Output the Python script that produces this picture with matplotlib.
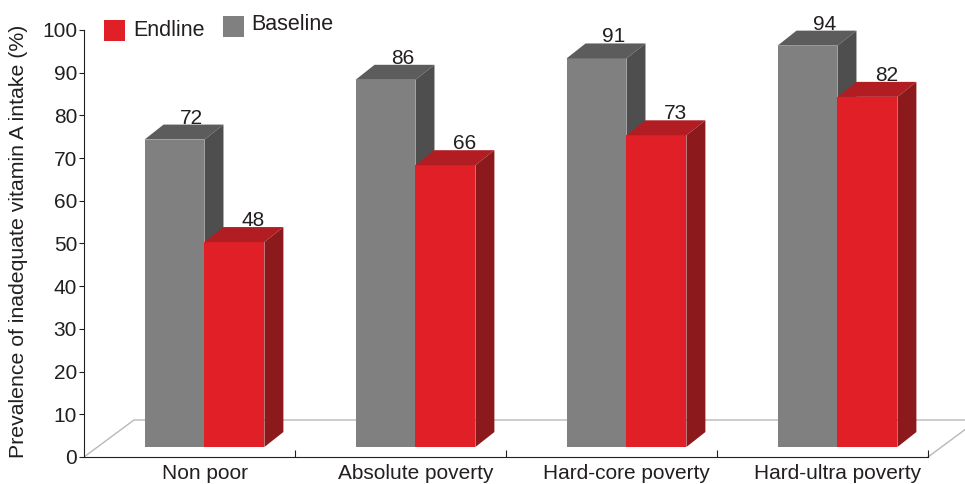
import matplotlib.pyplot as plt
from matplotlib.patches import Polygon, Rectangle

plt.rcParams['font.family'] = ['Liberation Sans', 'DejaVu Sans']

categories = ['Non poor', 'Absolute poverty', 'Hard-core poverty', 'Hard-ultra poverty']
baseline = [72, 86, 91, 94]
endline = [48, 66, 73, 82]
yticks = [0, 10, 20, 30, 40, 50, 60, 70, 80, 90, 100]

W, H = 965, 484
TXT = '#231f20'

fig = plt.figure(figsize=(W / 100, H / 100), dpi=100)
# axes: x from px 84 to 965, y from px 457 (0) to 30 (100)
ax = fig.add_axes([84 / W, (H - 457) / H, (965 - 84) / W, (457 - 30) / H])
ax.set_xlim(0, (965 - 84) / 211)
ax.set_ylim(0, 100)

# 3d geometry (data units)
bw = 0.284            # bar width
fx, fy = 0.071, 2.34  # front face offset from floor front
dx, dy = 0.09, 3.51   # bar depth
floor_dx, floor_dy = 0.237, 8.67

gray = ('#808080', '#5c5c5c', '#4e4e4e')
red = ('#e01f26', '#b11d22', '#8c191c')


def bar3d(x0, h, cols):
    x1 = x0 + bw
    y0, y1 = fy, fy + h
    front = [(x0, y0), (x1, y0), (x1, y1), (x0, y1)]
    top = [(x0, y1), (x1, y1), (x1 + dx, y1 + dy), (x0 + dx, y1 + dy)]
    side = [(x1, y0), (x1 + dx, y0 + dy), (x1 + dx, y1 + dy), (x1, y1)]
    for pts, c in ((front, cols[0]), (top, cols[1]), (side, cols[2])):
        ax.add_patch(Polygon(pts, closed=True, facecolor=c, edgecolor='none', zorder=3, clip_on=False))


# floor
fc = '#b8b8b8'
ax.plot([0, floor_dx, 4 + floor_dx], [0, floor_dy, floor_dy], color=fc, lw=1, zorder=1)
ax.plot([4, 4 + floor_dx], [0, floor_dy], color=fc, lw=1, zorder=1)

for i in range(len(categories)):
    c = i + 0.5
    xg = c - bw + fx
    xr = c + fx
    bar3d(xg, baseline[i], gray)
    bar3d(xr, endline[i], red)
    ax.text(xg + bw / 2 + 0.08, baseline[i] + fy + dy - 0.7, str(baseline[i]),
            ha='center', va='bottom', fontsize=15, color=TXT, zorder=4, clip_on=False)
    ax.text(xr + bw / 2 + 0.09, endline[i] + fy + dy - 0.7, str(endline[i]),
            ha='center', va='bottom', fontsize=15, color=TXT, zorder=4, clip_on=False)

# axes styling
for s in ('top', 'right'):
    ax.spines[s].set_visible(False)
ax.spines['left'].set_bounds(0, 100)
ax.spines['bottom'].set_bounds(0, 4)
ax.spines['left'].set_color(TXT)
ax.spines['bottom'].set_color(TXT)
ax.set_yticks(yticks)
ax.tick_params(axis='y', direction='out', length=3.5, labelsize=15, colors=TXT, pad=1.5)
ax.set_xticks([1, 2, 3, 4])
ax.set_xticklabels([])
ax.tick_params(axis='x', which='major', direction='in', length=5, colors=TXT)
ax.set_xticks([i + 0.5 + 0.072 for i in range(len(categories))], minor=True)
ax.set_xticklabels(categories, minor=True)
ax.tick_params(axis='x', which='minor', length=0, labelsize=15, colors=TXT, pad=5)
ax.set_ylabel('Prevalence of inadequate vitamin A intake (%)', fontsize=15.3, color=TXT)
ax.yaxis.set_label_coords(-0.064, 0.505)

# legend
def px(x, y):
    return x / W, 1 - y / H

fig.add_artist(Rectangle(px(104, 41), 21 / W, 21 / H, transform=fig.transFigure,
                         facecolor=red[0], edgecolor='none'))
fig.text(*px(133, 30), 'Endline', fontsize=15.5, color=TXT, va='center', ha='left')
fig.add_artist(Rectangle(px(223, 37), 21 / W, 21 / H, transform=fig.transFigure,
                         facecolor=gray[0], edgecolor='none'))
fig.text(*px(251, 25), 'Baseline', fontsize=15.5, color=TXT, va='center', ha='left')

fig.savefig('out.png', dpi=100)
